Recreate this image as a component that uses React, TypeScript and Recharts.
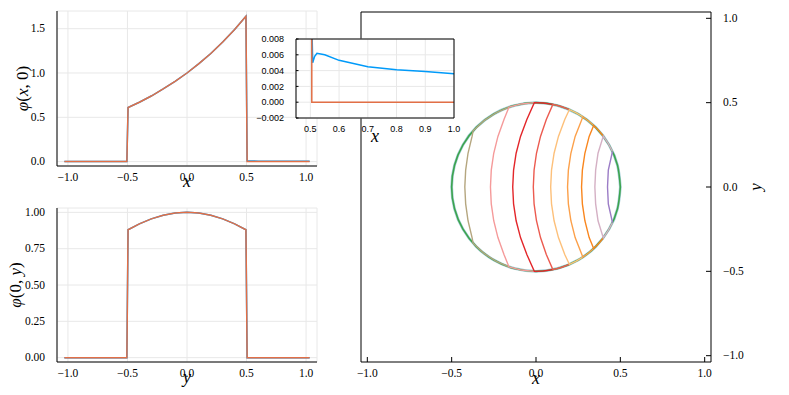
import React from "react";
import { LineChart, Line, XAxis, YAxis, CartesianGrid, Label } from "recharts";

const SERIF = '"Liberation Serif", "DejaVu Serif", serif';
const SANS = '"Liberation Sans", "DejaVu Sans", sans-serif';
const BLUE = "#009af9";
const ORANGE = "#e26f46";
const GRID = "#e8e8e8";

// cut positions shared by both profile plots
const cutX = [-1.03, -0.505, -0.495, -0.4, -0.3, -0.2, -0.1, 0, 0.1, 0.2, 0.3, 0.4, 0.495, 0.505, 0.508, 0.515, 0.523, 0.55, 0.6, 0.7, 0.8, 0.9, 1.0, 1.03];
const phiXBlue = [0, 0, 0.61, 0.67, 0.74, 0.82, 0.905, 1.0, 1.105, 1.22, 1.35, 1.49, 1.64, 0.0105, 0.005, 0.0058, 0.0062, 0.006, 0.0053, 0.0045, 0.0041, 0.0039, 0.0036, 0.0036];
const phiXOrange = [0, 0, 0.61, 0.67, 0.74, 0.82, 0.905, 1.0, 1.105, 1.22, 1.35, 1.49, 1.64, 0, 0, 0, 0, 0, 0, 0, 0, 0, 0, 0];

const cutY = [-1.03, -0.505, -0.495, -0.4, -0.3, -0.2, -0.1, 0, 0.1, 0.2, 0.3, 0.4, 0.495, 0.505, 1.03];
const phiYBlue = [0, 0, 0.88, 0.921, 0.955, 0.98, 0.995, 1.0, 0.995, 0.98, 0.955, 0.921, 0.88, 0, 0];
const phiYOrange = [0, 0, 0.88, 0.921, 0.955, 0.98, 0.995, 1.0, 0.995, 0.98, 0.955, 0.921, 0.88, 0, 0];

const xTicks = [-1, -0.5, 0, 0.5, 1];
const phiXTicks = [0, 0.5, 1, 1.5];
const phiYTicks = [0, 0.25, 0.5, 0.75, 1];
const insetXTicks = [0.5, 0.6, 0.7, 0.8, 0.9, 1.0];
const insetYTicks = [-0.002, 0, 0.002, 0.004, 0.006, 0.008];
const planeTicks = [-1, -0.5, 0, 0.5, 1];

// boundary of the disc
const circle = [
  { x: 0.5, y: 0 }, { x: 0.483, y: 0.1294 }, { x: 0.433, y: 0.25 }, { x: 0.3536, y: 0.3536 },
  { x: 0.25, y: 0.433 }, { x: 0.1294, y: 0.483 }, { x: 0, y: 0.5 }, { x: -0.1294, y: 0.483 },
  { x: -0.25, y: 0.433 }, { x: -0.3536, y: 0.3536 }, { x: -0.433, y: 0.25 }, { x: -0.483, y: 0.1294 },
  { x: -0.5, y: 0 }, { x: -0.483, y: -0.1294 }, { x: -0.433, y: -0.25 }, { x: -0.3536, y: -0.3536 },
  { x: -0.25, y: -0.433 }, { x: -0.1294, y: -0.483 }, { x: 0, y: -0.5 }, { x: 0.1294, y: -0.483 },
  { x: 0.25, y: -0.433 }, { x: 0.3536, y: -0.3536 }, { x: 0.433, y: -0.25 }, { x: 0.483, y: -0.1294 },
  { x: 0.5, y: 0 },
];

// contour lines, left to right
const contourTan = [
  { x: -0.16, y: 0.474 }, { x: -0.2347, y: 0.4415 }, { x: -0.3078, y: 0.394 }, { x: -0.373, y: 0.333 },
  { x: -0.379, y: 0.3 }, { x: -0.403, y: 0.2 }, { x: -0.417, y: 0.1 }, { x: -0.422, y: 0 },
  { x: -0.417, y: -0.1 }, { x: -0.403, y: -0.2 }, { x: -0.379, y: -0.3 }, { x: -0.373, y: -0.333 },
  { x: -0.3078, y: -0.394 }, { x: -0.2347, y: -0.4415 }, { x: -0.16, y: -0.474 },
];
const contourPink = [
  { x: -0.01, y: 0.5 }, { x: -0.0868, y: 0.4924 }, { x: -0.16, y: 0.474 }, { x: -0.1898, y: 0.4 },
  { x: -0.2257, y: 0.3 }, { x: -0.2506, y: 0.2 }, { x: -0.2652, y: 0.1 }, { x: -0.27, y: 0 },
  { x: -0.2652, y: -0.1 }, { x: -0.2506, y: -0.2 }, { x: -0.2257, y: -0.3 }, { x: -0.1898, y: -0.4 },
  { x: -0.16, y: -0.474 }, { x: -0.0868, y: -0.4924 }, { x: -0.01, y: -0.5 },
];
const contourRed = [
  { x: 0.1, y: 0.49 }, { x: 0.0436, y: 0.4981 }, { x: -0.01, y: 0.5 }, { x: -0.0543, y: 0.4 },
  { x: -0.0918, y: 0.3 }, { x: -0.1178, y: 0.2 }, { x: -0.133, y: 0.1 }, { x: -0.138, y: 0 },
  { x: -0.133, y: -0.1 }, { x: -0.1178, y: -0.2 }, { x: -0.0918, y: -0.3 }, { x: -0.0543, y: -0.4 },
  { x: -0.01, y: -0.5 }, { x: 0.0436, y: -0.4981 }, { x: 0.1, y: -0.49 },
];
const contourCoral = [
  { x: 0.198, y: 0.459 }, { x: 0.1495, y: 0.4771 }, { x: 0.1, y: 0.49 }, { x: 0.0611, y: 0.4 },
  { x: 0.0267, y: 0.3 }, { x: 0.0028, y: 0.2 }, { x: -0.0114, y: 0.1 }, { x: -0.016, y: 0 },
  { x: -0.0114, y: -0.1 }, { x: 0.0028, y: -0.2 }, { x: 0.0267, y: -0.3 }, { x: 0.0611, y: -0.4 },
  { x: 0.1, y: -0.49 }, { x: 0.1495, y: -0.4771 }, { x: 0.198, y: -0.459 },
];
const contourPeach = [
  { x: 0.278, y: 0.416 }, { x: 0.2386, y: 0.4394 }, { x: 0.198, y: 0.459 }, { x: 0.1705, y: 0.4 },
  { x: 0.1331, y: 0.3 }, { x: 0.1072, y: 0.2 }, { x: 0.092, y: 0.1 }, { x: 0.087, y: 0 },
  { x: 0.092, y: -0.1 }, { x: 0.1072, y: -0.2 }, { x: 0.1331, y: -0.3 }, { x: 0.1705, y: -0.4 },
  { x: 0.198, y: -0.459 }, { x: 0.2386, y: -0.4394 }, { x: 0.278, y: -0.416 },
];
const contourOrange = [
  { x: 0.342, y: 0.365 }, { x: 0.3112, y: 0.3913 }, { x: 0.278, y: 0.416 }, { x: 0.2321, y: 0.3 },
  { x: 0.2068, y: 0.2 }, { x: 0.1919, y: 0.1 }, { x: 0.187, y: 0 }, { x: 0.1919, y: -0.1 },
  { x: 0.2068, y: -0.2 }, { x: 0.2321, y: -0.3 }, { x: 0.278, y: -0.416 }, { x: 0.3112, y: -0.3913 },
  { x: 0.342, y: -0.365 },
];
const contourAmber = [
  { x: 0.399, y: 0.302 }, { x: 0.3716, y: 0.3346 }, { x: 0.342, y: 0.365 }, { x: 0.3152, y: 0.3 },
  { x: 0.2898, y: 0.2 }, { x: 0.2749, y: 0.1 }, { x: 0.27, y: 0 }, { x: 0.2749, y: -0.1 },
  { x: 0.2898, y: -0.2 }, { x: 0.3152, y: -0.3 }, { x: 0.342, y: -0.365 }, { x: 0.3716, y: -0.3346 },
  { x: 0.399, y: -0.302 },
];
const contourMauve = [
  { x: 0.4535, y: 0.2105 }, { x: 0.4286, y: 0.2575 }, { x: 0.399, y: 0.302 }, { x: 0.3677, y: 0.2 },
  { x: 0.3536, y: 0.1 }, { x: 0.349, y: 0 }, { x: 0.3536, y: -0.1 }, { x: 0.3677, y: -0.2 },
  { x: 0.399, y: -0.302 }, { x: 0.4286, y: -0.2575 }, { x: 0.4535, y: -0.2105 },
];
const contourPurple = [
  { x: 0.4535, y: 0.2105 }, { x: 0.4287, y: 0.1 }, { x: 0.424, y: 0 }, { x: 0.4287, y: -0.1 },
  { x: 0.4535, y: -0.2105 },
];
const contours = [contourTan, contourPink, contourRed, contourCoral, contourPeach, contourOrange, contourAmber, contourMauve, contourPurple];
const contourColors = ["#b5a67f", "#f59a9a", "#e3262a", "#ec5b50", "#fdc07a", "#fca04a", "#f9861e", "#d4b0c4", "#9b7cc6"];

const rowsX = cutX.map((x, i) => ({ x, blue: phiXBlue[i], orange: phiXOrange[i] }));
const rowsY = cutY.map((x, i) => ({ x, blue: phiYBlue[i], orange: phiYOrange[i] }));

const fmt = (d: number) => (v: number) => (v < 0 ? "\u2212" : "") + Math.abs(v).toFixed(d);

const bottomTick = (format: (v: number) => string, family: string, size: number, drop: number, inward = 0) =>
  (p: any) => (
    <g>
      {inward > 0 && <line x1={p.x} x2={p.x} y1={p.y} y2={p.y - inward} stroke="#000" />}
      <text x={p.x} y={p.y + drop} textAnchor="middle" fontFamily={family} fontSize={size} fill="#000">
        {format(p.payload.value)}
      </text>
    </g>
  );

const leftTick = (format: (v: number) => string, family: string, size: number, gap: number, inward = 0, shift = 3.8) =>
  (p: any) => (
    <g>
      {inward > 0 && <line x1={p.x} x2={p.x + inward} y1={p.y} y2={p.y} stroke="#000" />}
      <text x={p.x - gap} y={p.y + shift} textAnchor="end" fontFamily={family} fontSize={size} fill="#000">
        {format(p.payload.value)}
      </text>
    </g>
  );

const rightTick = (format: (v: number) => string, family: string, size: number, gap: number, inward = 0) =>
  (p: any) => (
    <g>
      {inward > 0 && <line x1={p.x} x2={p.x - inward} y1={p.y} y2={p.y} stroke="#000" />}
      <text x={p.x + gap} y={p.y + 3.8} textAnchor="start" fontFamily={family} fontSize={size} fill="#000">
        {format(p.payload.value)}
      </text>
    </g>
  );

const xTitle = (text: string, drop: number) => (p: any) => (
  <text x={p.viewBox.x + p.viewBox.width / 2} y={p.viewBox.y + drop} textAnchor="middle" fontFamily={SERIF} fontStyle="italic" fontSize={18} fill="#000">
    {text}
  </text>
);

const yTitle = (parts: [string, boolean][], dx: number) => (p: any) => {
  const cx = p.viewBox.x + dx;
  const cy = p.viewBox.y + p.viewBox.height / 2;
  return (
    <text x={cx} y={cy} transform={`rotate(-90 ${cx} ${cy})`} textAnchor="middle" dominantBaseline="central" fontFamily={SERIF} fontSize={17} fill="#000">
      {parts.map(([s, it], i) => (
        <tspan key={i} fontStyle={it ? "italic" : "normal"}>{s}</tspan>
      ))}
    </text>
  );
};

const axisBlack = { stroke: "#000", strokeWidth: 1 };

export default function App() {
  return (
    <div style={{ position: "absolute", left: 0, top: 0, width: 789, height: 395, background: "#fff" }}>
      <div style={{ position: "absolute", left: 0, top: 0 }}>
        <LineChart width={330} height={195} data={rowsX} margin={{ top: 11, right: 13, bottom: 0, left: 0 }}>
          <CartesianGrid stroke={GRID} />
          <XAxis dataKey="x" type="number" domain={[-1.0918, 1.0918]} allowDataOverflow ticks={xTicks} interval={0}
            height={29} tickSize={0} tickMargin={0} tickLine={false} axisLine={axisBlack} tick={bottomTick(fmt(1), SERIF, 11.5, 15)}>
            <Label content={xTitle("x", 21)} />
          </XAxis>
          <YAxis type="number" domain={[-0.0495, 1.6995]} allowDataOverflow ticks={phiXTicks} interval={0}
            width={57} tickSize={0} tickMargin={0} tickLine={false} axisLine={axisBlack} tick={leftTick(fmt(1), SERIF, 11.5, 12)}>
            <Label content={yTitle([["φ", true], ["(", false], ["x", true], [", 0)", false]], 22)} />
          </YAxis>
          <Line dataKey="blue" stroke={BLUE} strokeWidth={1.5} dot={false} type="linear" isAnimationActive={false} />
          <Line dataKey="orange" stroke={ORANGE} strokeWidth={1.5} dot={false} type="linear" isAnimationActive={false} />
        </LineChart>
      </div>

      <div style={{ position: "absolute", left: 0, top: 195 }}>
        <LineChart width={330} height={200} data={rowsY} margin={{ top: 13, right: 13, bottom: 0, left: 0 }}>
          <CartesianGrid stroke={GRID} />
          <XAxis dataKey="x" type="number" domain={[-1.0918, 1.0918]} allowDataOverflow ticks={xTicks} interval={0}
            height={33} tickSize={0} tickMargin={0} tickLine={false} axisLine={axisBlack} tick={bottomTick(fmt(1), SERIF, 11.5, 15)}>
            <Label content={xTitle("y", 21)} />
          </XAxis>
          <YAxis type="number" domain={[-0.03, 1.03]} allowDataOverflow ticks={phiYTicks} interval={0}
            width={57} tickSize={0} tickMargin={0} tickLine={false} axisLine={axisBlack} tick={leftTick(fmt(2), SERIF, 11.5, 12)}>
            <Label content={yTitle([["φ", true], ["(0, ", false], ["y", true], [")", false]], 15)} />
          </YAxis>
          <Line dataKey="blue" stroke={BLUE} strokeWidth={1.5} dot={false} type="linear" isAnimationActive={false} />
          <Line dataKey="orange" stroke={ORANGE} strokeWidth={1.5} dot={false} type="linear" isAnimationActive={false} />
        </LineChart>
      </div>

      <div style={{ position: "absolute", left: 340, top: 0 }}>
        <LineChart width={449} height={395} margin={{ top: 11, right: 0, bottom: 0, left: 20 }}>
          <XAxis dataKey="x" type="number" domain={[-1.0375, 1.0375]} allowDataOverflow ticks={planeTicks} interval={0}
            height={33} tickSize={0} tickMargin={0} tickLine={false} axisLine={axisBlack} tick={bottomTick(fmt(1), SERIF, 11.5, 15, 5)}>
            <Label content={xTitle("x", 22)} />
          </XAxis>
          <XAxis xAxisId="top" dataKey="x" orientation="top" type="number" domain={[-1.0375, 1.0375]} allowDataOverflow height={1} tick={false} tickLine={false} axisLine={axisBlack} />
          <YAxis type="number" orientation="right" domain={[-1.0375, 1.0375]} allowDataOverflow ticks={planeTicks} interval={0}
            width={78} tickSize={0} tickMargin={0} tickLine={false} axisLine={axisBlack} tick={rightTick(fmt(1), SERIF, 11.5, 12, 5)}>
            <Label content={yTitle([["y", true]], 44)} />
          </YAxis>
          <YAxis yAxisId="left" orientation="left" type="number" domain={[-1.0375, 1.0375]} allowDataOverflow width={1} tick={false} tickLine={false} axisLine={axisBlack} />
          <Line xAxisId="top" yAxisId="left" data={circle} dataKey="y" stroke="none" dot={false} isAnimationActive={false} />
          <Line data={circle} dataKey="y" stroke="#a6cfd8" strokeWidth={2.8} dot={false} type="natural" isAnimationActive={false} />
          <Line data={circle} dataKey="y" stroke="#3da44d" strokeWidth={1.6} dot={false} type="natural" isAnimationActive={false} />
          {contours.map((c, i) => (
            <Line key={i} data={c} dataKey="y" stroke={contourColors[i]} strokeWidth={1.4} dot={false} type="linear" isAnimationActive={false} />
          ))}
        </LineChart>
      </div>

      <div style={{ position: "absolute", left: 250, top: 29 }}>
        <LineChart width={220} height={125} data={rowsX} margin={{ top: 9, right: 15, bottom: 0, left: 0 }}>
          <CartesianGrid stroke={GRID} fill="#fff" fillOpacity={1} />
          <XAxis dataKey="x" type="number" domain={[0.45, 1.0]} allowDataOverflow ticks={insetXTicks} interval={0}
            height={36} tickSize={0} tickMargin={0} tickLine={false} axisLine={axisBlack} tick={bottomTick(fmt(1), SANS, 9, 14)}>
            <Label content={xTitle("x", 24)} />
          </XAxis>
          <XAxis xAxisId="top" dataKey="x" orientation="top" type="number" domain={[0.45, 1.0]} allowDataOverflow height={1} tick={false} tickLine={false} axisLine={axisBlack} />
          <YAxis type="number" domain={[-0.002, 0.008]} allowDataOverflow ticks={insetYTicks} interval={0}
            width={46} tickSize={0} tickMargin={0} tickLine={false} axisLine={axisBlack} tick={leftTick(fmt(3), SANS, 9, 12, 2.5, 3.2)} />
          <YAxis yAxisId="right" orientation="right" type="number" domain={[-0.002, 0.008]} allowDataOverflow width={1} tick={false} tickLine={false} axisLine={axisBlack} />
          <Line xAxisId="top" yAxisId="right" dataKey="orange" stroke="none" dot={false} isAnimationActive={false} />
          <Line dataKey="blue" stroke={BLUE} strokeWidth={1.5} dot={false} type="linear" isAnimationActive={false} />
          <Line dataKey="orange" stroke={ORANGE} strokeWidth={1.5} dot={false} type="linear" isAnimationActive={false} />
        </LineChart>
      </div>
    </div>
  );
}
